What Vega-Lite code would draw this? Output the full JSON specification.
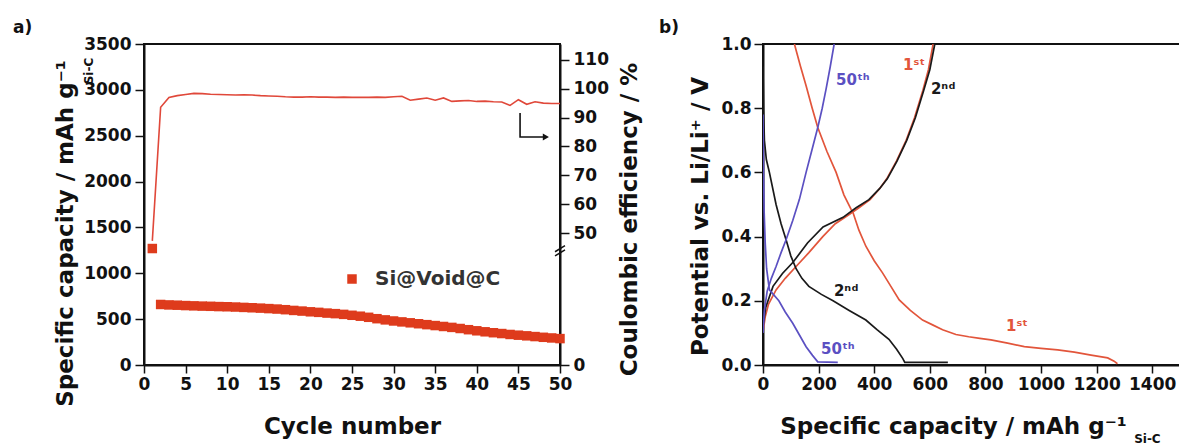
{
  "$schema": "https://vega.github.io/schema/vega-lite/v6.json",
  "autosize": {"type": "pad"},
  "padding": {"left": 12, "top": 18, "right": 0, "bottom": 0},
  "background": "white",
  "spacing": 203,
  "bounds": "flush",
  "resolve": {"scale": {"color": "independent"}},
  "datasets": {
    "cycling": [
      {"cycle": 1, "capacity": 1270, "efficiency": 47, "sample": "Si@Void@C"},
      {"cycle": 2, "capacity": 660, "efficiency": 93.6, "sample": "Si@Void@C"},
      {"cycle": 3, "capacity": 655, "efficiency": 97.0, "sample": "Si@Void@C"},
      {"cycle": 4, "capacity": 652, "efficiency": 97.6, "sample": "Si@Void@C"},
      {"cycle": 5, "capacity": 648, "efficiency": 98.0, "sample": "Si@Void@C"},
      {"cycle": 6, "capacity": 645, "efficiency": 98.4, "sample": "Si@Void@C"},
      {"cycle": 7, "capacity": 642, "efficiency": 98.3, "sample": "Si@Void@C"},
      {"cycle": 8, "capacity": 640, "efficiency": 98.1, "sample": "Si@Void@C"},
      {"cycle": 9, "capacity": 637, "efficiency": 98.0, "sample": "Si@Void@C"},
      {"cycle": 10, "capacity": 635, "efficiency": 97.9, "sample": "Si@Void@C"},
      {"cycle": 11, "capacity": 632, "efficiency": 97.8, "sample": "Si@Void@C"},
      {"cycle": 12, "capacity": 628, "efficiency": 97.9, "sample": "Si@Void@C"},
      {"cycle": 13, "capacity": 624, "efficiency": 97.8, "sample": "Si@Void@C"},
      {"cycle": 14, "capacity": 620, "efficiency": 97.6, "sample": "Si@Void@C"},
      {"cycle": 15, "capacity": 615, "efficiency": 97.5, "sample": "Si@Void@C"},
      {"cycle": 16, "capacity": 610, "efficiency": 97.4, "sample": "Si@Void@C"},
      {"cycle": 17, "capacity": 603, "efficiency": 97.2, "sample": "Si@Void@C"},
      {"cycle": 18, "capacity": 595, "efficiency": 97.1, "sample": "Si@Void@C"},
      {"cycle": 19, "capacity": 588, "efficiency": 97.1, "sample": "Si@Void@C"},
      {"cycle": 20, "capacity": 580, "efficiency": 97.2, "sample": "Si@Void@C"},
      {"cycle": 21, "capacity": 574, "efficiency": 97.1, "sample": "Si@Void@C"},
      {"cycle": 22, "capacity": 566, "efficiency": 97.1, "sample": "Si@Void@C"},
      {"cycle": 23, "capacity": 560, "efficiency": 97.0, "sample": "Si@Void@C"},
      {"cycle": 24, "capacity": 552, "efficiency": 97.1, "sample": "Si@Void@C"},
      {"cycle": 25, "capacity": 542, "efficiency": 97.0, "sample": "Si@Void@C"},
      {"cycle": 26, "capacity": 532, "efficiency": 97.0, "sample": "Si@Void@C"},
      {"cycle": 27, "capacity": 520, "efficiency": 97.0, "sample": "Si@Void@C"},
      {"cycle": 28, "capacity": 505, "efficiency": 97.1, "sample": "Si@Void@C"},
      {"cycle": 29, "capacity": 492, "efficiency": 97.0, "sample": "Si@Void@C"},
      {"cycle": 30, "capacity": 480, "efficiency": 97.2, "sample": "Si@Void@C"},
      {"cycle": 31, "capacity": 470, "efficiency": 97.4, "sample": "Si@Void@C"},
      {"cycle": 32, "capacity": 460, "efficiency": 96.0, "sample": "Si@Void@C"},
      {"cycle": 33, "capacity": 450, "efficiency": 96.4, "sample": "Si@Void@C"},
      {"cycle": 34, "capacity": 440, "efficiency": 96.8, "sample": "Si@Void@C"},
      {"cycle": 35, "capacity": 430, "efficiency": 96.0, "sample": "Si@Void@C"},
      {"cycle": 36, "capacity": 420, "efficiency": 96.8, "sample": "Si@Void@C"},
      {"cycle": 37, "capacity": 410, "efficiency": 95.6, "sample": "Si@Void@C"},
      {"cycle": 38, "capacity": 398, "efficiency": 95.8, "sample": "Si@Void@C"},
      {"cycle": 39, "capacity": 385, "efficiency": 95.9, "sample": "Si@Void@C"},
      {"cycle": 40, "capacity": 373, "efficiency": 95.6, "sample": "Si@Void@C"},
      {"cycle": 41, "capacity": 362, "efficiency": 95.7, "sample": "Si@Void@C"},
      {"cycle": 42, "capacity": 352, "efficiency": 95.5, "sample": "Si@Void@C"},
      {"cycle": 43, "capacity": 343, "efficiency": 95.4, "sample": "Si@Void@C"},
      {"cycle": 44, "capacity": 333, "efficiency": 94.2, "sample": "Si@Void@C"},
      {"cycle": 45, "capacity": 325, "efficiency": 96.2, "sample": "Si@Void@C"},
      {"cycle": 46, "capacity": 318, "efficiency": 94.6, "sample": "Si@Void@C"},
      {"cycle": 47, "capacity": 310, "efficiency": 95.5, "sample": "Si@Void@C"},
      {"cycle": 48, "capacity": 302, "efficiency": 95.0, "sample": "Si@Void@C"},
      {"cycle": 49, "capacity": 295, "efficiency": 94.9, "sample": "Si@Void@C"},
      {"cycle": 50, "capacity": 288, "efficiency": 94.9, "sample": "Si@Void@C"}
    ],
    "profiles": [
      {"cyc": "1st", "curve": "1st discharge", "i": 1, "cap": 113, "pot": 1.0},
      {"cyc": "1st", "curve": "1st discharge", "i": 2, "cap": 135, "pot": 0.93},
      {"cyc": "1st", "curve": "1st discharge", "i": 3, "cap": 155, "pot": 0.87},
      {"cyc": "1st", "curve": "1st discharge", "i": 4, "cap": 177, "pot": 0.80},
      {"cyc": "1st", "curve": "1st discharge", "i": 5, "cap": 197, "pot": 0.74},
      {"cyc": "1st", "curve": "1st discharge", "i": 6, "cap": 230, "pot": 0.665},
      {"cyc": "1st", "curve": "1st discharge", "i": 7, "cap": 263, "pot": 0.60},
      {"cyc": "1st", "curve": "1st discharge", "i": 8, "cap": 291, "pot": 0.53},
      {"cyc": "1st", "curve": "1st discharge", "i": 9, "cap": 317, "pot": 0.485},
      {"cyc": "1st", "curve": "1st discharge", "i": 10, "cap": 324, "pot": 0.474},
      {"cyc": "1st", "curve": "1st discharge", "i": 11, "cap": 345, "pot": 0.42},
      {"cyc": "1st", "curve": "1st discharge", "i": 12, "cap": 370, "pot": 0.37},
      {"cyc": "1st", "curve": "1st discharge", "i": 13, "cap": 400, "pot": 0.325},
      {"cyc": "1st", "curve": "1st discharge", "i": 14, "cap": 430, "pot": 0.287},
      {"cyc": "1st", "curve": "1st discharge", "i": 15, "cap": 460, "pot": 0.245},
      {"cyc": "1st", "curve": "1st discharge", "i": 16, "cap": 490, "pot": 0.203},
      {"cyc": "1st", "curve": "1st discharge", "i": 17, "cap": 530, "pot": 0.17},
      {"cyc": "1st", "curve": "1st discharge", "i": 18, "cap": 574, "pot": 0.14},
      {"cyc": "1st", "curve": "1st discharge", "i": 19, "cap": 610, "pot": 0.125},
      {"cyc": "1st", "curve": "1st discharge", "i": 20, "cap": 646, "pot": 0.11},
      {"cyc": "1st", "curve": "1st discharge", "i": 21, "cap": 694, "pot": 0.095},
      {"cyc": "1st", "curve": "1st discharge", "i": 22, "cap": 740, "pot": 0.088},
      {"cyc": "1st", "curve": "1st discharge", "i": 23, "cap": 780, "pot": 0.083},
      {"cyc": "1st", "curve": "1st discharge", "i": 24, "cap": 820, "pot": 0.078},
      {"cyc": "1st", "curve": "1st discharge", "i": 25, "cap": 880, "pot": 0.068},
      {"cyc": "1st", "curve": "1st discharge", "i": 26, "cap": 940, "pot": 0.057},
      {"cyc": "1st", "curve": "1st discharge", "i": 27, "cap": 1000, "pot": 0.052},
      {"cyc": "1st", "curve": "1st discharge", "i": 28, "cap": 1060, "pot": 0.047},
      {"cyc": "1st", "curve": "1st discharge", "i": 29, "cap": 1120, "pot": 0.04},
      {"cyc": "1st", "curve": "1st discharge", "i": 30, "cap": 1180, "pot": 0.031},
      {"cyc": "1st", "curve": "1st discharge", "i": 31, "cap": 1240, "pot": 0.022},
      {"cyc": "1st", "curve": "1st discharge", "i": 32, "cap": 1263, "pot": 0.012},
      {"cyc": "1st", "curve": "1st discharge", "i": 33, "cap": 1275, "pot": 0.004},
      {"cyc": "1st", "curve": "1st charge", "i": 1, "cap": 0, "pot": 0.104},
      {"cyc": "1st", "curve": "1st charge", "i": 2, "cap": 8, "pot": 0.15},
      {"cyc": "1st", "curve": "1st charge", "i": 3, "cap": 20, "pot": 0.19},
      {"cyc": "1st", "curve": "1st charge", "i": 4, "cap": 47, "pot": 0.234},
      {"cyc": "1st", "curve": "1st charge", "i": 5, "cap": 80, "pot": 0.27},
      {"cyc": "1st", "curve": "1st charge", "i": 6, "cap": 119, "pot": 0.307},
      {"cyc": "1st", "curve": "1st charge", "i": 7, "cap": 165, "pot": 0.35},
      {"cyc": "1st", "curve": "1st charge", "i": 8, "cap": 215, "pot": 0.40},
      {"cyc": "1st", "curve": "1st charge", "i": 9, "cap": 260, "pot": 0.44},
      {"cyc": "1st", "curve": "1st charge", "i": 10, "cap": 310, "pot": 0.469},
      {"cyc": "1st", "curve": "1st charge", "i": 11, "cap": 345, "pot": 0.49},
      {"cyc": "1st", "curve": "1st charge", "i": 12, "cap": 385, "pot": 0.515},
      {"cyc": "1st", "curve": "1st charge", "i": 13, "cap": 420, "pot": 0.55},
      {"cyc": "1st", "curve": "1st charge", "i": 14, "cap": 445, "pot": 0.58},
      {"cyc": "1st", "curve": "1st charge", "i": 15, "cap": 480, "pot": 0.635},
      {"cyc": "1st", "curve": "1st charge", "i": 16, "cap": 515, "pot": 0.70},
      {"cyc": "1st", "curve": "1st charge", "i": 17, "cap": 545, "pot": 0.77},
      {"cyc": "1st", "curve": "1st charge", "i": 18, "cap": 575, "pot": 0.855},
      {"cyc": "1st", "curve": "1st charge", "i": 19, "cap": 595, "pot": 0.92},
      {"cyc": "1st", "curve": "1st charge", "i": 20, "cap": 612, "pot": 1.0},
      {"cyc": "2nd", "curve": "2nd discharge", "i": 1, "cap": 0, "pot": 0.93},
      {"cyc": "2nd", "curve": "2nd discharge", "i": 2, "cap": 2, "pot": 0.80},
      {"cyc": "2nd", "curve": "2nd discharge", "i": 3, "cap": 5, "pot": 0.70},
      {"cyc": "2nd", "curve": "2nd discharge", "i": 4, "cap": 12, "pot": 0.64},
      {"cyc": "2nd", "curve": "2nd discharge", "i": 5, "cap": 23, "pot": 0.60},
      {"cyc": "2nd", "curve": "2nd discharge", "i": 6, "cap": 47, "pot": 0.50},
      {"cyc": "2nd", "curve": "2nd discharge", "i": 7, "cap": 65, "pot": 0.44},
      {"cyc": "2nd", "curve": "2nd discharge", "i": 8, "cap": 83, "pot": 0.39},
      {"cyc": "2nd", "curve": "2nd discharge", "i": 9, "cap": 100, "pot": 0.34},
      {"cyc": "2nd", "curve": "2nd discharge", "i": 10, "cap": 119, "pot": 0.30},
      {"cyc": "2nd", "curve": "2nd discharge", "i": 11, "cap": 140, "pot": 0.27},
      {"cyc": "2nd", "curve": "2nd discharge", "i": 12, "cap": 165, "pot": 0.245},
      {"cyc": "2nd", "curve": "2nd discharge", "i": 13, "cap": 210, "pot": 0.22},
      {"cyc": "2nd", "curve": "2nd discharge", "i": 14, "cap": 252, "pot": 0.20},
      {"cyc": "2nd", "curve": "2nd discharge", "i": 15, "cap": 310, "pot": 0.17},
      {"cyc": "2nd", "curve": "2nd discharge", "i": 16, "cap": 370, "pot": 0.14},
      {"cyc": "2nd", "curve": "2nd discharge", "i": 17, "cap": 410, "pot": 0.11},
      {"cyc": "2nd", "curve": "2nd discharge", "i": 18, "cap": 453, "pot": 0.08},
      {"cyc": "2nd", "curve": "2nd discharge", "i": 19, "cap": 480, "pot": 0.05},
      {"cyc": "2nd", "curve": "2nd discharge", "i": 20, "cap": 503, "pot": 0.02},
      {"cyc": "2nd", "curve": "2nd discharge", "i": 21, "cap": 510, "pot": 0.008},
      {"cyc": "2nd", "curve": "2nd discharge", "i": 22, "cap": 665, "pot": 0.008},
      {"cyc": "2nd", "curve": "2nd charge", "i": 1, "cap": 0, "pot": 0.12},
      {"cyc": "2nd", "curve": "2nd charge", "i": 2, "cap": 10, "pot": 0.18},
      {"cyc": "2nd", "curve": "2nd charge", "i": 3, "cap": 36, "pot": 0.245},
      {"cyc": "2nd", "curve": "2nd charge", "i": 4, "cap": 70, "pot": 0.285},
      {"cyc": "2nd", "curve": "2nd charge", "i": 5, "cap": 108, "pot": 0.32},
      {"cyc": "2nd", "curve": "2nd charge", "i": 6, "cap": 160, "pot": 0.38},
      {"cyc": "2nd", "curve": "2nd charge", "i": 7, "cap": 216, "pot": 0.43},
      {"cyc": "2nd", "curve": "2nd charge", "i": 8, "cap": 288, "pot": 0.46},
      {"cyc": "2nd", "curve": "2nd charge", "i": 9, "cap": 335, "pot": 0.49},
      {"cyc": "2nd", "curve": "2nd charge", "i": 10, "cap": 381, "pot": 0.515},
      {"cyc": "2nd", "curve": "2nd charge", "i": 11, "cap": 420, "pot": 0.55},
      {"cyc": "2nd", "curve": "2nd charge", "i": 12, "cap": 447, "pot": 0.58},
      {"cyc": "2nd", "curve": "2nd charge", "i": 13, "cap": 482, "pot": 0.635},
      {"cyc": "2nd", "curve": "2nd charge", "i": 14, "cap": 517, "pot": 0.70},
      {"cyc": "2nd", "curve": "2nd charge", "i": 15, "cap": 548, "pot": 0.77},
      {"cyc": "2nd", "curve": "2nd charge", "i": 16, "cap": 578, "pot": 0.855},
      {"cyc": "2nd", "curve": "2nd charge", "i": 17, "cap": 600, "pot": 0.92},
      {"cyc": "2nd", "curve": "2nd charge", "i": 18, "cap": 618, "pot": 1.0},
      {"cyc": "50th", "curve": "50th discharge", "i": 1, "cap": 0, "pot": 0.78},
      {"cyc": "50th", "curve": "50th discharge", "i": 2, "cap": 2, "pot": 0.60},
      {"cyc": "50th", "curve": "50th discharge", "i": 3, "cap": 4, "pot": 0.48},
      {"cyc": "50th", "curve": "50th discharge", "i": 4, "cap": 8, "pot": 0.38},
      {"cyc": "50th", "curve": "50th discharge", "i": 5, "cap": 13, "pot": 0.30},
      {"cyc": "50th", "curve": "50th discharge", "i": 6, "cap": 23, "pot": 0.234},
      {"cyc": "50th", "curve": "50th discharge", "i": 7, "cap": 57, "pot": 0.20},
      {"cyc": "50th", "curve": "50th discharge", "i": 8, "cap": 80, "pot": 0.165},
      {"cyc": "50th", "curve": "50th discharge", "i": 9, "cap": 107, "pot": 0.13},
      {"cyc": "50th", "curve": "50th discharge", "i": 10, "cap": 130, "pot": 0.095},
      {"cyc": "50th", "curve": "50th discharge", "i": 11, "cap": 155, "pot": 0.057},
      {"cyc": "50th", "curve": "50th discharge", "i": 12, "cap": 178, "pot": 0.03},
      {"cyc": "50th", "curve": "50th discharge", "i": 13, "cap": 197, "pot": 0.01},
      {"cyc": "50th", "curve": "50th discharge", "i": 14, "cap": 269, "pot": 0.008},
      {"cyc": "50th", "curve": "50th charge", "i": 1, "cap": 0, "pot": 0.10},
      {"cyc": "50th", "curve": "50th charge", "i": 2, "cap": 5, "pot": 0.17},
      {"cyc": "50th", "curve": "50th charge", "i": 3, "cap": 15, "pot": 0.23},
      {"cyc": "50th", "curve": "50th charge", "i": 4, "cap": 30, "pot": 0.27},
      {"cyc": "50th", "curve": "50th charge", "i": 5, "cap": 47, "pot": 0.307},
      {"cyc": "50th", "curve": "50th charge", "i": 6, "cap": 65, "pot": 0.35},
      {"cyc": "50th", "curve": "50th charge", "i": 7, "cap": 83, "pot": 0.39},
      {"cyc": "50th", "curve": "50th charge", "i": 8, "cap": 107, "pot": 0.45},
      {"cyc": "50th", "curve": "50th charge", "i": 9, "cap": 131, "pot": 0.516},
      {"cyc": "50th", "curve": "50th charge", "i": 10, "cap": 155, "pot": 0.60},
      {"cyc": "50th", "curve": "50th charge", "i": 11, "cap": 176, "pot": 0.67},
      {"cyc": "50th", "curve": "50th charge", "i": 12, "cap": 197, "pot": 0.74},
      {"cyc": "50th", "curve": "50th charge", "i": 13, "cap": 213, "pot": 0.80},
      {"cyc": "50th", "curve": "50th charge", "i": 14, "cap": 227, "pot": 0.86},
      {"cyc": "50th", "curve": "50th charge", "i": 15, "cap": 242, "pot": 0.93},
      {"cyc": "50th", "curve": "50th charge", "i": 16, "cap": 256, "pot": 1.0}
    ],
    "curveLabels": [
      {"cyc": "50th", "label": "50ᵗʰ", "cap": 263, "pot": 0.889},
      {"cyc": "1st", "label": "1ˢᵗ", "cap": 504, "pot": 0.934},
      {"cyc": "2nd", "label": "2ⁿᵈ", "cap": 604, "pot": 0.86},
      {"cyc": "2nd", "label": "2ⁿᵈ", "cap": 255, "pot": 0.23},
      {"cyc": "50th", "label": "50ᵗʰ", "cap": 209, "pot": 0.05},
      {"cyc": "1st", "label": "1ˢᵗ", "cap": 874, "pot": 0.12}
    ]
  },
  "hconcat": [
    {
      "width": 416,
      "height": 321,
      "title": {"text": "a)", "anchor": "start", "frame": "group", "dx": -131, "offset": -2, "fontSize": 17, "fontWeight": "bold", "font": "DejaVu Sans", "color": "#111"},
      "layer": [
        {
          "layer": [
            {
              "data": {"name": "cycling"},
              "mark": {"type": "square", "size": 90, "opacity": 1, "filled": true},
              "encoding": {
                "x": {
                  "field": "cycle", "type": "quantitative",
                  "scale": {"domain": [0, 50], "nice": false, "zero": false},
                  "axis": {
                    "title": "Cycle number",
                    "values": [0, 2.5, 5, 7.5, 10, 12.5, 15, 17.5, 20, 22.5, 25, 27.5, 30, 32.5, 35, 37.5, 40, 42.5, 45, 47.5, 50],
                    "labelExpr": "datum.value % 5 === 0 ? datum.label : ''",
                    "tickSize": {"condition": {"test": "datum.value % 5 === 0", "value": 8}, "value": 4},
                    "labelPadding": 3, "titlePadding": 23, "labelOverlap": false, "labelFlush": false
                  }
                },
                "y": {
                  "field": "capacity", "type": "quantitative",
                  "scale": {"domain": [0, 3500], "nice": false, "zero": false},
                  "axis": {
                    "title": "Specific capacity / mAh g⁻¹",
                    "orient": "left",
                    "values": [0, 250, 500, 750, 1000, 1250, 1500, 1750, 2000, 2250, 2500, 2750, 3000, 3250, 3500],
                    "labelExpr": "datum.value % 500 === 0 ? datum.label : ''",
                    "format": "d",
                    "tickSize": {"condition": {"test": "datum.value % 500 === 0", "value": 9}, "value": 5},
                    "labelPadding": 4, "titlePadding": 6, "titleY": 189, "labelOverlap": false, "labelFlush": false
                  }
                },
                "color": {
                  "field": "sample", "type": "nominal",
                  "scale": {"domain": ["Si@Void@C"], "range": ["#de3b1c"]},
                  "legend": {
                    "title": null, "orient": "none", "legendX": 198, "legendY": 225,
                    "symbolType": "square", "symbolSize": 90, "symbolStrokeWidth": 0,
                    "labelFont": "DejaVu Sans", "labelFontSize": 20, "labelFontWeight": "bold",
                    "labelColor": "#333", "labelOffset": 13
                  }
                }
              }
            },
            {
              "data": {"values": [
                {"cycle": 45.2, "capacity": 2748, "i": 1},
                {"cycle": 45.2, "capacity": 2486, "i": 2},
                {"cycle": 48.0, "capacity": 2486, "i": 3}
              ]},
              "mark": {"type": "line", "color": "#111", "strokeWidth": 1.6},
              "encoding": {
                "x": {"field": "cycle", "type": "quantitative"},
                "y": {"field": "capacity", "type": "quantitative"},
                "order": {"field": "i", "type": "quantitative"}
              }
            },
            {
              "data": {"values": [{"cycle": 48.3, "capacity": 2486}]},
              "mark": {"type": "point", "shape": "triangle-right", "filled": true, "size": 50, "color": "#111", "opacity": 1},
              "encoding": {
                "x": {"field": "cycle", "type": "quantitative"},
                "y": {"field": "capacity", "type": "quantitative"}
              }
            },
            {
              "data": {"values": [{"cycle": -6.6, "capacity": 3060, "sub": "Si-C"}]},
              "mark": {"type": "text", "angle": 270, "align": "left", "baseline": "middle", "fontSize": 12, "fontWeight": "bold", "font": "DejaVu Sans", "color": "#111"},
              "encoding": {
                "x": {"field": "cycle", "type": "quantitative"},
                "y": {"field": "capacity", "type": "quantitative"},
                "text": {"field": "sub"}
              }
            }
          ]
        },
        {
          "layer": [
            {
              "data": {"name": "cycling"},
              "mark": {"type": "line", "color": "#e0483a", "strokeWidth": 1.6},
              "encoding": {
                "x": {"field": "cycle", "type": "quantitative"},
                "y": {
                  "field": "efficiency", "type": "quantitative",
                  "scale": {"domain": [0, 50, 115.5], "range": [321, 189, 0], "nice": false, "zero": false},
                  "axis": {
                    "title": "Coulombic efficiency / %",
                    "orient": "right",
                    "values": [0, 21, 50, 55, 60, 65, 70, 75, 80, 85, 90, 95, 100, 105, 110],
                    "labelExpr": "datum.value === 0 || (datum.value >= 50 && datum.value % 10 === 0) ? datum.label : ''",
                    "tickSize": {"condition": {"test": "datum.value === 0 || (datum.value >= 50 && datum.value % 10 === 0)", "value": 9}, "value": 5},
                    "labelPadding": 4, "titlePadding": 10, "titleY": 175, "titleAngle": 270, "titleBaseline": "top",
                    "labelOverlap": false, "labelFlush": false
                  }
                }
              }
            },
            {
              "data": {"values": [
                {"cycle": 49.4, "cycle2": 50.6, "efficiency": 41.3, "efficiency2": 43.6},
                {"cycle": 49.4, "cycle2": 50.6, "efficiency": 42.9, "efficiency2": 45.2}
              ]},
              "mark": {"type": "rule", "color": "#111", "strokeWidth": 1.5},
              "encoding": {
                "x": {"field": "cycle", "type": "quantitative"},
                "x2": {"field": "cycle2"},
                "y": {"field": "efficiency", "type": "quantitative"},
                "y2": {"field": "efficiency2"}
              }
            }
          ]
        }
      ],
      "resolve": {"scale": {"y": "independent"}}
    },
    {
      "width": 417,
      "height": 321,
      "title": {"text": "b)", "anchor": "start", "frame": "group", "dx": -104, "offset": -2, "fontSize": 17, "fontWeight": "bold", "font": "DejaVu Sans", "color": "#111"},
      "layer": [
        {
          "data": {"name": "profiles"},
          "mark": {"type": "line", "strokeWidth": 1.7, "clip": true},
          "encoding": {
            "x": {
              "field": "cap", "type": "quantitative",
              "scale": {"domain": [0, 1500], "nice": false, "zero": false},
              "axis": {
                "title": "Specific capacity / mAh g⁻¹",
                "values": [0, 100, 200, 300, 400, 500, 600, 700, 800, 900, 1000, 1100, 1200, 1300, 1400],
                "labelExpr": "datum.value % 200 === 0 ? datum.label : ''",
                "format": "d",
                "tickSize": {"condition": {"test": "datum.value % 200 === 0", "value": 8}, "value": 4},
                "labelPadding": 3, "titlePadding": 23, "titleX": 190, "labelOverlap": false, "labelFlush": false
              }
            },
            "y": {
              "field": "pot", "type": "quantitative",
              "scale": {"domain": [0, 1], "nice": false, "zero": false},
              "axis": {
                "title": "Potential vs. Li/Li⁺ / V",
                "values": [0, 0.1, 0.2, 0.3, 0.4, 0.5, 0.6, 0.7, 0.8, 0.9, 1.0],
                "format": ".1f",
                "labelExpr": "round(datum.value * 10) % 2 === 0 ? datum.label : ''",
                "tickSize": {"condition": {"test": "round(datum.value * 10) % 2 === 0", "value": 9}, "value": 5},
                "labelPadding": 3, "titlePadding": 8, "titleY": 172, "labelOverlap": false, "labelFlush": false
              }
            },
            "color": {
              "field": "cyc", "type": "nominal",
              "scale": {"domain": ["1st", "2nd", "50th"], "range": ["#e2553b", "#1a1a1a", "#5b50c2"]},
              "legend": null
            },
            "detail": {"field": "curve", "type": "nominal"},
            "order": {"field": "i", "type": "quantitative"}
          }
        },
        {
          "data": {"name": "curveLabels"},
          "mark": {"type": "text", "align": "left", "baseline": "middle", "fontSize": 15, "fontWeight": "bold", "font": "DejaVu Sans"},
          "encoding": {
            "x": {"field": "cap", "type": "quantitative"},
            "y": {"field": "pot", "type": "quantitative"},
            "text": {"field": "label"},
            "color": {"field": "cyc", "type": "nominal"}
          }
        },
        {
          "data": {"values": [{"cap": 1335, "pot": -0.23, "sub": "Si-C"}]},
          "mark": {"type": "text", "align": "left", "baseline": "middle", "fontSize": 12, "fontWeight": "bold", "font": "DejaVu Sans", "color": "#111"},
          "encoding": {
            "x": {"field": "cap", "type": "quantitative"},
            "y": {"field": "pot", "type": "quantitative"},
            "text": {"field": "sub"}
          }
        }
      ]
    }
  ],
  "config": {
    "font": "DejaVu Sans",
    "view": {"stroke": "#111", "strokeWidth": 2},
    "axis": {
      "grid": false,
      "domainColor": "#111", "domainWidth": 2,
      "tickColor": "#111", "tickWidth": 1.5,
      "labelFont": "DejaVu Sans", "labelFontSize": 17, "labelFontWeight": "bold", "labelColor": "#111",
      "titleFont": "DejaVu Sans", "titleFontSize": 23, "titleFontWeight": "bold", "titleColor": "#111"
    }
  }
}
